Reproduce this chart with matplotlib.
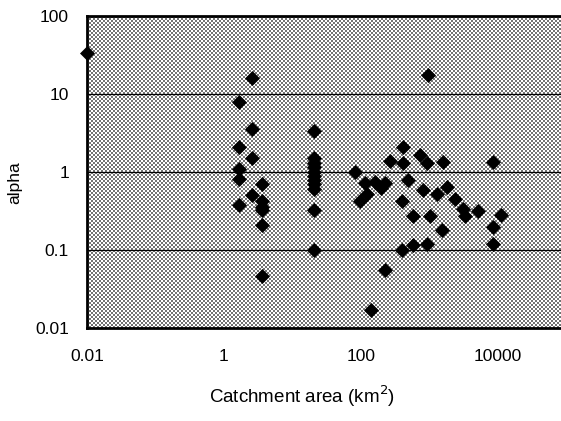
import numpy as np
import matplotlib
matplotlib.use('Agg')
import matplotlib.pyplot as plt

plt.rcParams['font.family'] = ['Liberation Sans', 'DejaVu Sans']

# catchment area (km2) and alpha
area = [0.01,
        1.66, 1.66, 1.66, 1.66, 1.66,
        2.56, 2.56, 2.56, 2.56,
        3.6, 3.6, 3.6, 3.6, 3.6, 3.6,
        21, 21, 21, 21, 21, 21, 21, 21, 21, 21, 21,
        82, 97, 114, 122, 140, 160, 196, 224, 224, 265,
        410, 400, 400, 410, 486, 574, 574, 727, 804, 920, 920, 950,
        1017, 1286, 1522, 1574, 1800, 2357, 3085, 3300, 5100,
        8460, 8460, 8460, 11400]
alpha = [34,
         7.9, 2.1, 1.1, 0.82, 0.38,
         16, 3.6, 1.5, 0.5,
         0.7, 0.42, 0.36, 0.33, 0.21, 0.046,
         3.4, 1.5, 1.3, 1.15, 1.0, 0.9, 0.8, 0.7, 0.6, 0.33, 0.1,
         1.0, 0.42, 0.72, 0.53, 0.017, 0.74, 0.62, 0.72, 0.056, 1.4,
         2.1, 0.42, 0.1, 1.3, 0.78, 0.27, 0.115, 1.63, 0.58, 1.3, 0.12, 17.4,
         0.27, 0.53, 0.18, 1.35, 0.64, 0.45, 0.34, 0.27, 0.32,
         1.35, 0.2, 0.12, 0.28]

xticks = [0.01, 1, 100, 10000]
xlabels = ['0.01', '1', '100', '10000']
yticks = [0.01, 0.1, 1, 10, 100]
ylabels = ['0.01', '0.1', '1', '10', '100']

W, H = 561, 421
fig = plt.figure(figsize=(W / 100, H / 100), dpi=100)

# plot area in pixels (right edge runs just past the picture)
left, right, top, bottom = 87, 566, 16, 328
ax = fig.add_axes([left / W, 1 - bottom / H, (right - left) / W, (bottom - top) / H])
ax.patch.set_visible(False)

# stippled background, drawn pixel for pixel
h, w = bottom - top, W - left
yy, xx = np.mgrid[0:h, 0:w]
dots = ((xx // 2 + yy // 2) % 2 == 0)
img = np.ones((h, w, 3))
img[dots] = 0.45
fig.figimage(img, xo=left, yo=H - bottom, zorder=-1)

ax.plot(area, alpha, 'D', color='black', ms=7, mew=0.5, clip_on=False, zorder=3)

ax.set_xscale('log')
ax.set_yscale('log')
ax.set_xlim(0.01, 100000)
ax.set_ylim(0.01, 100)
ax.minorticks_off()
ax.set_xticks(xticks, xlabels)
ax.set_yticks(yticks, ylabels)
ax.tick_params(length=0, labelsize=12.5)
ax.tick_params(axis='x', pad=15)
ax.tick_params(axis='y', pad=13)

ax.yaxis.grid(True, color='black', lw=0.9)
ax.set_axisbelow(True)

for s in ['left', 'bottom', 'top']:
    ax.spines[s].set_linewidth(2)
ax.spines['right'].set_visible(False)

fig.text(302 / W, 1 - 396 / H, 'Catchment area (km$^2$)', ha='center', va='center', fontsize=13.5)
fig.text(15 / W, 1 - 183 / H, 'alpha', ha='center', va='center', rotation=90, fontsize=12.5)

fig.savefig('out.png', dpi=100)
